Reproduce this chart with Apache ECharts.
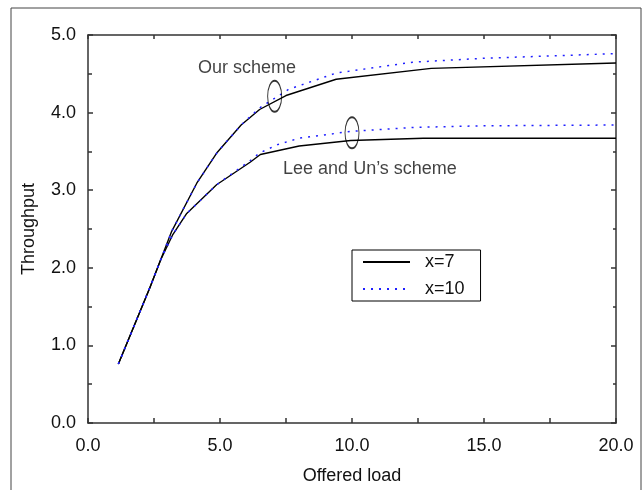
<!DOCTYPE html>
<html>
<head>
<meta charset="utf-8">
<title>Throughput vs offered load</title>
<script src="https://cdn.jsdelivr.net/npm/echarts@6/dist/echarts.min.js"></script>
<style>
  html, body { margin: 0; padding: 0; background: #fff; }
  #chart { width: 643px; height: 490px; }
</style>
</head>
<body>
<div id="chart"></div>
<script>
// values: [offered load, throughput]
var ourX7 = [[1.15, 0.76], [2.35, 1.75], [3.17, 2.47], [4.12, 3.09], [4.9, 3.49], [5.8, 3.84],
  [6.5, 4.04], [7.5, 4.22], [9.4, 4.43], [13.0, 4.57], [20.0, 4.64]];
var ourX10 = [[1.15, 0.76], [2.35, 1.75], [3.17, 2.47], [4.12, 3.09], [4.9, 3.49], [5.8, 3.84],
  [6.5, 4.06], [7.6, 4.30], [9.4, 4.51], [12.3, 4.65], [15.0, 4.70], [20.0, 4.76]];
var leeX7 = [[1.15, 0.76], [2.35, 1.75], [2.75, 2.10], [3.2, 2.42], [3.74, 2.70], [4.87, 3.07], [6.14, 3.36],
  [6.53, 3.46], [8.0, 3.57], [9.95, 3.64], [12.7, 3.67], [20.0, 3.67]];
var leeX10 = [[1.15, 0.76], [2.35, 1.75], [2.75, 2.10], [3.2, 2.42], [3.74, 2.70], [4.87, 3.07], [6.14, 3.38],
  [6.5, 3.48], [7.2, 3.59], [8.0, 3.67], [10.0, 3.76], [12.4, 3.81], [15.0, 3.83], [20.0, 3.84]];

var legendNames = ['x=7', 'x=10'];
var ellipses = [[7.07, 4.21], [10.0, 3.74]];
var notes = [[6.02, 4.58, 'Our scheme'], [10.68, 3.27, 'Lee and Un\u2019s scheme']];

var font = '"Liberation Sans", Arial, sans-serif';
var axisCol = '#333';

var chart = echarts.init(document.getElementById('chart'), null, {renderer: 'canvas'});

function fmt(v) { return v.toFixed(1); }

var option = {
  animation: false,
  backgroundColor: '#fff',
  textStyle: {fontFamily: font},
  graphic: [{
    type: 'rect', silent: true,
    shape: {x: 11, y: 8, width: 630, height: 495},
    style: {fill: 'none', stroke: '#444', lineWidth: 1}
  }],
  grid: {left: 88, right: 27, top: 35, bottom: 63},
  legend: {
    data: legendNames,
    orient: 'vertical',
    left: 352, top: 250,
    borderColor: '#000', borderWidth: 1,
    padding: [3, 16, 3, 10],
    itemWidth: 47, itemHeight: 14, itemGap: 9,
    itemStyle: {opacity: 0, borderWidth: 0},
    textStyle: {fontSize: 18, color: '#111', fontFamily: font, padding: [0, 0, 0, 10]}
  },
  xAxis: [{
    type: 'value', min: 0, max: 20, interval: 5,
    name: 'Offered load', nameLocation: 'middle', nameGap: 44,
    nameTextStyle: {fontSize: 18, color: '#111'},
    axisLine: {lineStyle: {color: axisCol, width: 1.5}},
    axisTick: {inside: true, length: 5, lineStyle: {color: axisCol, width: 1.5}},
    minorTick: {show: true, splitNumber: 2, length: 5, lineStyle: {color: axisCol, width: 1.5}},
    axisLabel: {fontSize: 18, color: '#111', margin: 14, formatter: fmt},
    splitLine: {show: false}
  }, {
    type: 'value', position: 'top', min: 0, max: 20, interval: 5,
    axisLine: {show: true, onZero: false, lineStyle: {color: axisCol, width: 1.5}},
    axisTick: {inside: true, length: 4, lineStyle: {color: axisCol, width: 1.5}},
    minorTick: {show: true, splitNumber: 2, length: 4, lineStyle: {color: axisCol, width: 1.5}},
    axisLabel: {show: false},
    splitLine: {show: false}
  }],
  yAxis: [{
    type: 'value', min: 0, max: 5, interval: 1,
    name: 'Throughput', nameLocation: 'middle', nameGap: 50,
    nameTextStyle: {fontSize: 18, color: '#111'},
    axisLine: {show: true, lineStyle: {color: axisCol, width: 1.5}},
    axisTick: {show: true, inside: true, length: 5, lineStyle: {color: axisCol, width: 1.5}},
    minorTick: {show: true, splitNumber: 2, length: 4, lineStyle: {color: axisCol, width: 1.5}},
    axisLabel: {fontSize: 18, color: '#111', margin: 12, formatter: fmt},
    splitLine: {show: false}
  }, {
    type: 'value', position: 'right', min: 0, max: 5, interval: 1,
    axisLine: {show: true, onZero: false, lineStyle: {color: axisCol, width: 1.5}},
    axisTick: {show: true, inside: true, length: 5, lineStyle: {color: axisCol, width: 1.5}},
    minorTick: {show: true, splitNumber: 2, length: 3, lineStyle: {color: axisCol, width: 1.5}},
    axisLabel: {show: false},
    splitLine: {show: false}
  }],
  series: [
    {name: 'x=7', type: 'line', data: ourX7, symbol: 'none', z: 3,
      itemStyle: {color: '#000'}, lineStyle: {color: '#000', width: 1.4}},
    {name: 'x=7', type: 'line', data: leeX7, symbol: 'none', z: 3,
      itemStyle: {color: '#000'}, lineStyle: {color: '#000', width: 1.4}},
    {name: 'x=10', type: 'line', data: ourX10, symbol: 'none', z: 4,
      itemStyle: {color: '#1f1fff'}, lineStyle: {color: '#1f1fff', width: 1.5, type: [2, 6]}},
    {name: 'x=10', type: 'line', data: leeX10, symbol: 'none', z: 4,
      itemStyle: {color: '#1f1fff'}, lineStyle: {color: '#1f1fff', width: 1.5, type: [2, 6]}},
    {type: 'scatter', data: ellipses, symbol: 'circle', symbolSize: [14, 31], z: 5,
      silent: true,
      itemStyle: {color: 'rgba(0,0,0,0)', borderColor: '#000', borderWidth: 1.4}},
    {type: 'scatter', data: notes, symbolSize: 0, z: 5, silent: true,
      itemStyle: {color: '#000'},
      label: {show: true, position: 'inside', fontSize: 18, color: '#111',
        textBorderWidth: 0, formatter: function (p) { return p.data[2]; }}}
  ]
};

chart.setOption(option);
</script>
</body>
</html>
